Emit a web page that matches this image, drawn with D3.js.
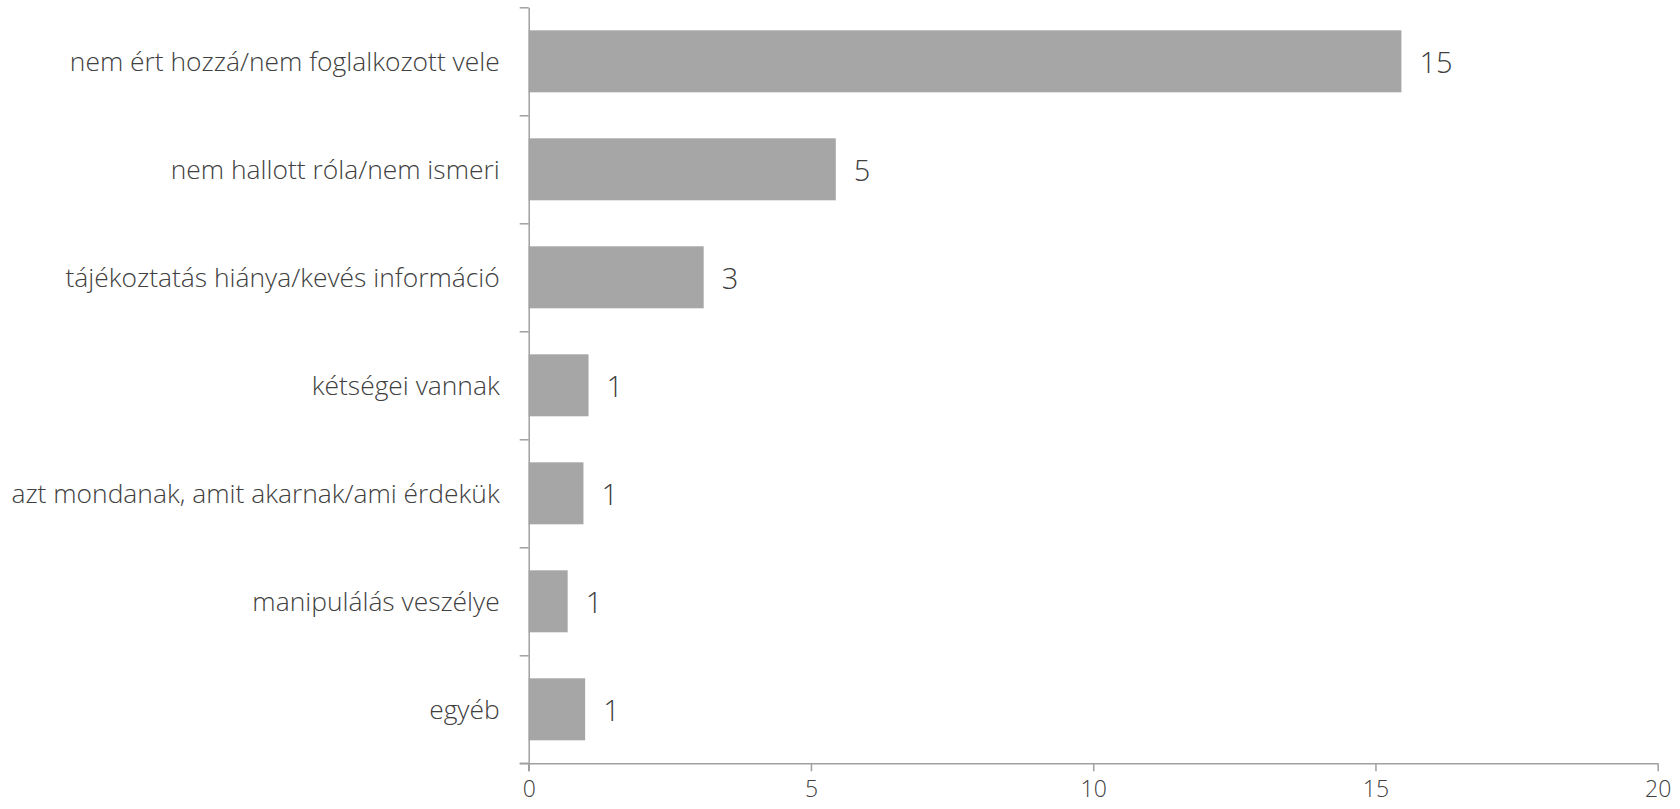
<!DOCTYPE html>
<html>
<head>
<meta charset="utf-8">
<script src="https://cdn.jsdelivr.net/npm/d3@7"></script>
<style>
  html, body { margin: 0; padding: 0; background: #fff; }
  svg { display: block; }
  text { font-family: "Open Sans", "Noto Sans", sans-serif; font-weight: 300; fill: #404040; }
</style>
</head>
<body>
<svg id="chart" width="1680" height="809"></svg>
<script>
const categories = [
  "nem ért hozzá/nem foglalkozott vele",
  "nem hallott róla/nem ismeri",
  "tájékoztatás hiánya/kevés információ",
  "kétségei vannak",
  "azt mondanak, amit akarnak/ami érdekük",
  "manipulálás veszélye",
  "egyéb"
];
const values = [15.46, 5.44, 3.1, 1.06, 0.97, 0.69, 1.0];
const valueLabels = ["15", "5", "3", "1", "1", "1", "1"];
const xTicks = [0, 5, 10, 15, 20];

const W = 1680, H = 809;
const margin = { left: 528.7, right: 22.3, top: 7.3, bottom: 45.7 };
const svg = d3.select("#chart");

const x = d3.scaleLinear().domain([0, 20]).range([margin.left, W - margin.right]);
const y = d3.scaleBand().domain(categories)
  .range([margin.top, H - margin.bottom])
  .paddingInner(0.426).paddingOuter(0.213);
const yEdge = d3.scaleLinear().domain([0, categories.length]).range([margin.top, H - margin.bottom]);

// bars
svg.append("g").selectAll("rect").data(categories).join("rect")
  .attr("x", x(0))
  .attr("y", d => y(d))
  .attr("width", (d, i) => x(values[i]) - x(0))
  .attr("height", y.bandwidth())
  .attr("fill", "#a6a6a6");

// value labels
svg.append("g").selectAll("text").data(categories).join("text")
  .attr("x", (d, i) => x(values[i]) + 18)
  .attr("y", d => y(d) + y.bandwidth() / 2)
  .attr("dy", "0.4em")
  .style("font-size", "29px")
  .text((d, i) => valueLabels[i]);

// category labels
svg.append("g").selectAll("text").data(categories).join("text")
  .attr("x", x(0) - 29)
  .attr("y", d => y(d) + y.bandwidth() / 2)
  .attr("dy", "0.38em")
  .attr("text-anchor", "end")
  .style("font-size", "26.4px")
  .text(d => d);

// left axis (ticks at band edges)
const yAxis = svg.append("g")
  .attr("transform", `translate(${x(0)},0)`)
  .call(d3.axisLeft(yEdge).tickValues(d3.range(categories.length + 1)).tickFormat("").tickSize(9).tickSizeOuter(0));
yAxis.selectAll("path, line").attr("stroke", "#a0a0a0").attr("stroke-width", 1.5);

// bottom axis
const xAxis = svg.append("g")
  .attr("transform", `translate(0,${H - margin.bottom})`)
  .call(d3.axisBottom(x).tickValues(xTicks).tickSize(8).tickSizeOuter(0).tickPadding(26));
xAxis.select(".domain").attr("stroke", "#a0a0a0").attr("stroke-width", 1.5);
xAxis.selectAll("line").attr("stroke", "#a0a0a0").attr("stroke-width", 1.5);
xAxis.selectAll("text")
  .attr("dy", "0em")
  .style("font-family", "\"Open Sans\", \"Noto Sans\", sans-serif")
  .style("font-weight", 300)
  .style("font-size", "23px")
  .attr("fill", "#404040");
// extend the left axis down to cross the bottom axis slightly
svg.append("line")
  .attr("x1", x(0)).attr("x2", x(0))
  .attr("y1", H - margin.bottom).attr("y2", H - margin.bottom + 8)
  .attr("stroke", "#a0a0a0").attr("stroke-width", 1.5);
svg.append("line")
  .attr("x1", x(0) - 9).attr("x2", x(0))
  .attr("y1", H - margin.bottom).attr("y2", H - margin.bottom)
  .attr("stroke", "#a0a0a0").attr("stroke-width", 1.5);
</script>
</body>
</html>
